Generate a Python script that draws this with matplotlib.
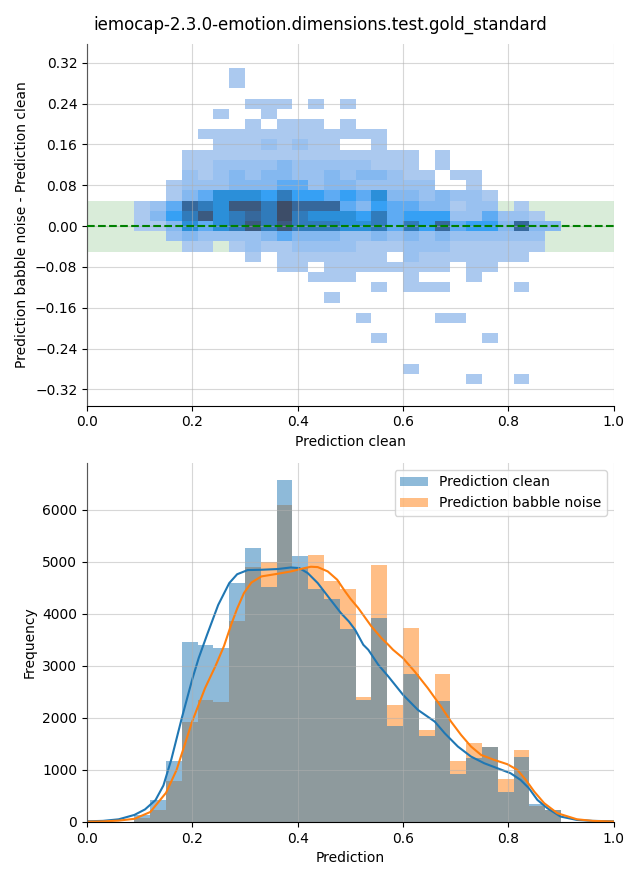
import numpy as np
import matplotlib
matplotlib.use("Agg")
import matplotlib.pyplot as plt
from matplotlib.colors import ListedColormap, BoundaryNorm
from matplotlib.ticker import MultipleLocator
from matplotlib.patches import Patch

TITLE = "iemocap-2.3.0-emotion.dimensions.test.gold_standard"

# shared bins of the prediction axis (27 bins of width 0.03)
bin_edges = np.linspace(0.09, 0.90, 28)

# --- top: 2D histogram, clean prediction vs. difference -----------------
# difference bins: centres 0.30 ... -0.30 (step 0.02)
diff_edges = np.linspace(0.31, -0.31, 32)
# one string per difference row (top to bottom), one char per bin:
# '.' = empty, '1'..'9' = count level, 'X' = 10 (highest)
diff_rows = [
    "......1....................",
    "......1....................",
    "...........................",
    ".......111.1.1.............",
    ".....1..1..................",
    ".......1.111.1.............",
    "....111111111111...........",
    ".....11121211..1...........",
    "...111111111111111.1.......",
    "...112222322222111.1.......",
    "...2123233223233211.11.....",
    "..12223334423322222..1.....",
    "..134666575545463323221....",
    "124876997X8884354433122.1..",
    "135796787X7666574555224221.",
    "113646797977766747584553833",
    "..232222343332232323222222.",
    "...11.12112222111222111111.",
    ".......1.1111111.21111111..",
    ".........11.11111111.11....",
    "...........111...1...1.....",
    "...............1.111....1..",
    "............1..............",
    "...........................",
    "..............1....11......",
    "...........................",
    "...............1......1....",
    "...........................",
    "...........................",
    ".................1.........",
    ".....................1..1..",
]
level_colors = ["#abc9ef", "#99c1f0", "#84b8f0", "#5eabf3", "#36a0f4",
                "#2b8fd9", "#307bbb", "#36689c", "#3b5a80", "#3d4d68"]

# --- bottom: histograms of both predictions ----------------------------
count_clean = [135, 423, 1173, 3462, 3404, 3346, 4596, 5269, 4519, 6564,
               5115, 4481, 4288, 3699, 2346, 3923, 1846, 2846, 1654, 2327,
               923, 1237, 1442, 583, 1250, 340, 237]
count_babble = [83, 231, 788, 1923, 2346, 2308, 3853, 4904, 4987, 6096,
                4880, 5135, 4635, 4481, 2397, 4942, 2250, 3731, 1769, 2846,
                1173, 1519, 1442, 827, 1385, 314, 225]

# kde curves
kde_clean_x = [0.0, 0.03, 0.06, 0.09, 0.11, 0.13, 0.145, 0.16, 0.18, 0.2,
               0.212, 0.228, 0.249, 0.27, 0.285, 0.305, 0.331, 0.362, 0.387,
               0.403, 0.419, 0.438, 0.46, 0.482, 0.497, 0.509, 0.5245, 0.534,
               0.553, 0.572, 0.6, 0.628, 0.66, 0.679, 0.704, 0.729, 0.754,
               0.779, 0.804, 0.823, 0.839, 0.855, 0.874, 0.899, 0.93, 0.96,
               1.0]
kde_clean_y = [12, 20, 50, 135, 240, 420, 700, 1200, 2000, 2750,
               3150, 3600, 4170, 4590, 4760, 4840, 4846, 4860, 4890,
               4878, 4782, 4590, 4300, 4013, 3853, 3692, 3404, 3308,
               3019, 2795, 2442, 2154, 1929, 1705, 1449, 1256, 1128,
               1032, 936, 808, 647, 423, 263, 103, 38, 20, 12]
kde_babble_x = [0.0, 0.03, 0.06, 0.09, 0.12, 0.15, 0.17, 0.2, 0.224, 0.244,
                0.26, 0.274, 0.285, 0.298, 0.312, 0.331, 0.362, 0.387, 0.413,
                0.425, 0.438, 0.457, 0.475, 0.49, 0.5, 0.515, 0.54, 0.559,
                0.572, 0.581, 0.6, 0.622, 0.647, 0.672, 0.691, 0.71, 0.729,
                0.748, 0.773, 0.798, 0.817, 0.833, 0.849, 0.868, 0.893, 0.93,
                0.96, 1.0]
kde_babble_y = [5, 10, 25, 60, 190, 560, 1000, 1940, 2570, 3000,
                3380, 3800, 4100, 4400, 4600, 4718, 4769, 4814, 4878,
                4904, 4897, 4814, 4654, 4429, 4290, 4109, 3756, 3532,
                3404, 3308, 3147, 2891, 2571, 2218, 1929, 1673, 1449,
                1288, 1192, 1109, 1000, 808, 583, 359, 167, 51, 20, 8]


def parse_rows(rows):
    lookup = {".": 0, "X": 10}
    grid = []
    for row in rows:
        assert len(row) == 27, row
        grid.append([lookup[c] if c in lookup else int(c) for c in row])
    return np.array(grid, dtype=float)


fig = plt.figure(figsize=(6.4, 8.8), dpi=100)
ax1 = fig.add_axes([0.136, 0.539, 0.823, 0.411])
ax2 = fig.add_axes([0.136, 0.066, 0.823, 0.408])
fig.suptitle(TITLE, x=0.5, y=0.982, fontsize=12)

# top panel
grid = parse_rows(diff_rows)
cmap = ListedColormap(level_colors)
norm = BoundaryNorm(np.arange(0.5, 11.5, 1.0), cmap.N)
ax1.axhspan(-0.05, 0.05, color="green", alpha=0.15, lw=0, zorder=0)
ax1.pcolormesh(bin_edges, diff_edges, np.ma.masked_equal(grid, 0),
               cmap=cmap, norm=norm, zorder=1)
ax1.axhline(0, color="green", linestyle="--", lw=1.5, zorder=3)
ax1.set_xlim(0, 1)
ax1.set_ylim(-0.352, 0.357)
ax1.yaxis.set_major_locator(MultipleLocator(0.08))
ax1.xaxis.set_major_locator(MultipleLocator(0.2))
ax1.set_xlabel("Prediction clean")
ax1.set_ylabel("Prediction babble noise - Prediction clean")
ax1.grid(True, alpha=0.5, zorder=2)
ax1.set_axisbelow(False)

# bottom panel
widths = np.diff(bin_edges)
c_clean, c_babble = "#1f77b4", "#ff7f0e"
ax2.bar(bin_edges[:-1], count_babble, width=widths, align="edge",
        color=c_babble, alpha=0.5, lw=0)
ax2.bar(bin_edges[:-1], count_clean, width=widths, align="edge",
        color=c_clean, alpha=0.5, lw=0)
ax2.plot(kde_clean_x, kde_clean_y, color=c_clean, lw=1.5)
ax2.plot(kde_babble_x, kde_babble_y, color=c_babble, lw=1.5)
ax2.set_xlim(0, 1)
ax2.set_ylim(0, 6900)
ax2.xaxis.set_major_locator(MultipleLocator(0.2))
ax2.set_xlabel("Prediction")
ax2.set_ylabel("Frequency")
ax2.grid(True, alpha=0.5)
ax2.set_axisbelow(False)
handles = [Patch(facecolor=c_clean, alpha=0.5, lw=0, label="Prediction clean"),
           Patch(facecolor=c_babble, alpha=0.5, lw=0,
                 label="Prediction babble noise")]
ax2.legend(handles=handles, loc="upper right")

for ax in (ax1, ax2):
    ax.spines["top"].set_visible(False)
    ax.spines["right"].set_visible(False)

fig.savefig("out.png")
